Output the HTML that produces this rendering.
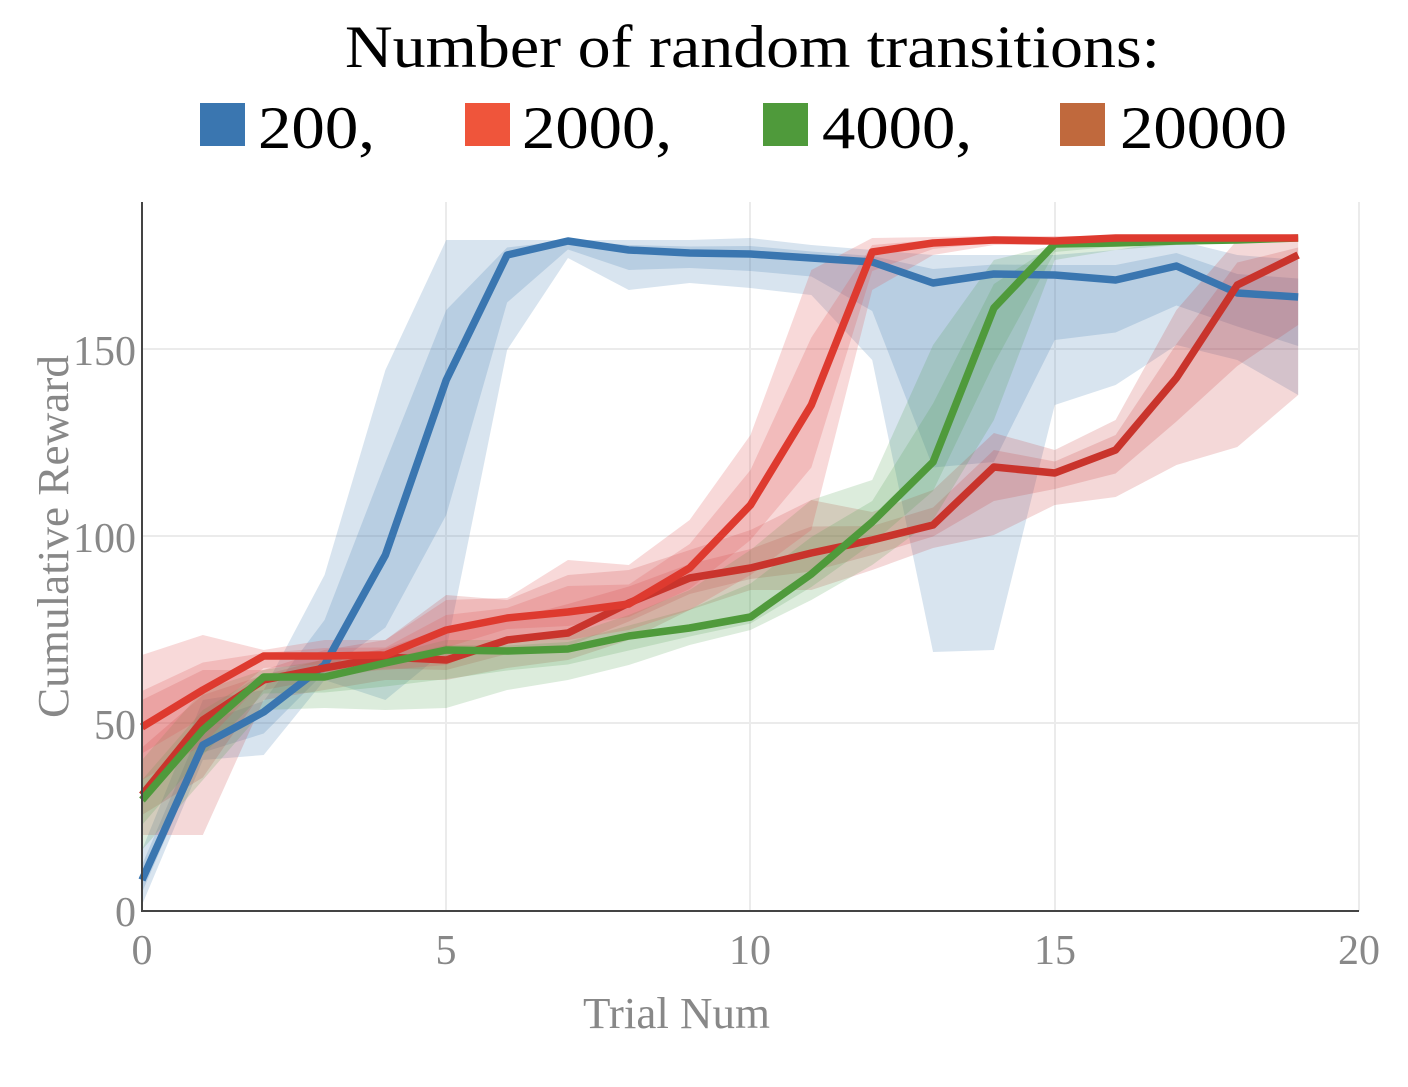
<!DOCTYPE html>
<html><head><meta charset="utf-8"><style>
body{margin:0;background:#fff;width:1408px;height:1082px;overflow:hidden}
svg text{font-family:"Liberation Serif",serif}
</style></head><body>
<svg id="s" width="1408" height="1082" xmlns="http://www.w3.org/2000/svg">
<text x="345" y="67" font-size="60" textLength="815" lengthAdjust="spacingAndGlyphs" fill="#000">Number of random transitions:</text>
<rect x="200" y="103" width="45" height="43" fill="#3a76b0"/><text x="258" y="148" font-size="60" textLength="117" lengthAdjust="spacingAndGlyphs">200,</text>
<rect x="465" y="103" width="45" height="43" fill="#ef553b"/><text x="522" y="148" font-size="60" textLength="150" lengthAdjust="spacingAndGlyphs">2000,</text>
<rect x="763" y="103" width="45" height="43" fill="#4f9a3b"/><text x="822" y="148" font-size="60" textLength="150" lengthAdjust="spacingAndGlyphs">4000,</text>
<rect x="1060" y="103" width="45" height="43" fill="#c0693d"/><text x="1120" y="148" font-size="60" textLength="167" lengthAdjust="spacingAndGlyphs">20000</text>
<g stroke="#ebebeb" stroke-width="2">
<line x1="142" y1="723" x2="1359" y2="723"/><line x1="142" y1="536" x2="1359" y2="536"/><line x1="142" y1="349" x2="1359" y2="349"/>
<line x1="446" y1="202" x2="446" y2="911"/><line x1="750" y1="202" x2="750" y2="911"/><line x1="1055" y1="202" x2="1055" y2="911"/><line x1="1359" y1="202" x2="1359" y2="911"/>
</g>
<g id="d"></g>
<line x1="142" y1="202" x2="142" y2="912" stroke="#444" stroke-width="2"/>
<line x1="141" y1="911" x2="1359" y2="911" stroke="#444" stroke-width="2"/>
<g fill="#888" font-size="42" text-anchor="end">
<text x="136" y="926">0</text><text x="136" y="739">50</text><text x="136" y="552">100</text><text x="136" y="365">150</text>
</g>
<g fill="#888" font-size="42" text-anchor="middle">
<text x="142" y="964">0</text><text x="446" y="964">5</text><text x="750" y="964">10</text><text x="1055" y="964">15</text><text x="1359" y="964">20</text>
</g>
<text x="583" y="1028" fill="#888" font-size="44" textLength="187" lengthAdjust="spacingAndGlyphs">Trial Num</text>
<text transform="translate(68,718) rotate(-90)" fill="#888" font-size="44" textLength="363" lengthAdjust="spacingAndGlyphs">Cumulative Reward</text>
</svg>
<script>
const X=i=>142+60.85*i;
const S=[
{c:"#3a76b0",f:"rgba(58,118,176,0.2)",
l:[880,745,712,665,555,380,255,241,250,253,254,258,262,283,274,275,280,266,293,297],
u:[850,700,690,575,370,240,240,240,240,240,238,245,250,255,255,255,250,240,255,260],
d:[905,760,755,680,700,650,350,258,290,283,288,295,360,652,650,405,385,345,360,395]},
{c:"#c9342c",f:"rgba(200,60,60,0.2)",
l:[795,720,680,668,657,660,640,633,603,578,568,553,540,525,467,473,450,378,285,255],
u:[700,670,670,650,640,595,600,575,570,550,530,500,512,490,433,450,420,310,240,240],
d:[835,835,700,690,680,680,668,660,640,610,590,590,570,548,535,505,497,465,447,395]},
{c:"#4f9a3b",f:"rgba(79,160,80,0.2)",
l:[800,730,677,677,663,650,651,649,636,628,617,574,522,462,308,244,243,241,240,238],
u:[760,690,670,660,655,640,640,635,615,590,550,500,480,345,260,245,240,240,238,235],
d:[850,780,710,708,710,708,690,680,665,645,630,600,565,520,420,260,250,245,242,240]},
{c:"#de3a2f",f:"rgba(225,80,80,0.22)",
l:[727,690,656,656,655,630,618,612,604,568,505,405,252,243,240,241,238,238,238,238],
u:[655,635,650,640,640,600,598,560,565,520,435,270,238,237,236,236,236,236,236,236],
d:[780,745,680,672,670,665,640,640,630,610,575,530,290,255,245,245,242,242,240,240]}];
let h="";
for(const s of S){
 const band=(a,b)=>{let p=a.map((y,i)=>X(i)+","+y);for(let i=b.length-1;i>=0;i--)p.push(X(i)+","+b[i]);return p.join(" ");};
 h+=`<polygon points="${band(s.u,s.d)}" fill="${s.f}"/>`;
 const iu=s.u.map((v,i)=>(v+s.l[i])/2),id=s.d.map((v,i)=>(v+s.l[i])/2);
 h+=`<polygon points="${band(iu,id)}" fill="${s.f}"/>`;
}
for(const s of S){h+=`<polyline points="${s.l.map((y,i)=>X(i)+","+y).join(" ")}" fill="none" stroke="${s.c}" stroke-width="7.5" stroke-linejoin="round"/>`;}
document.getElementById("d").innerHTML=h;
</script>
</body></html>
